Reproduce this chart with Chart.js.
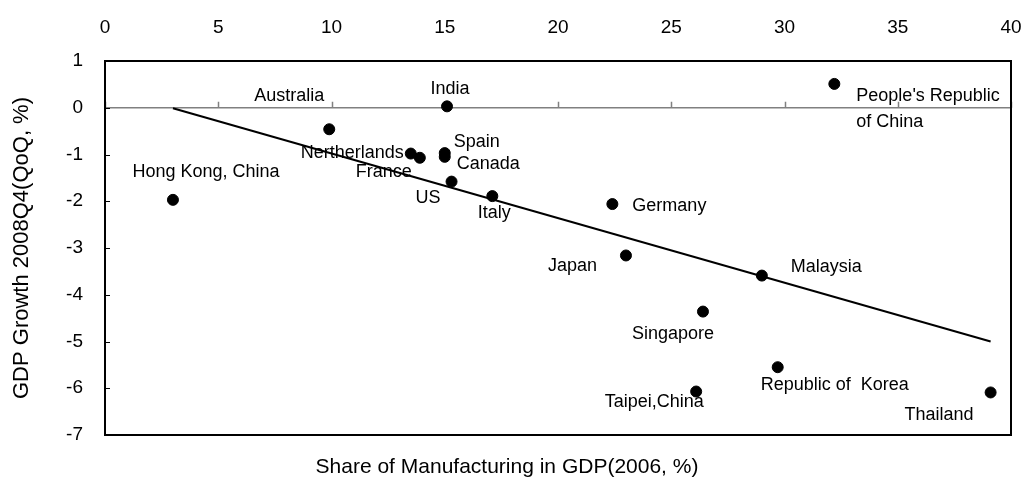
<!DOCTYPE html>
<html>
<head>
<meta charset="utf-8">
<script src="https://cdn.jsdelivr.net/npm/chart.js@4/dist/chart.umd.min.js"></script>
<style>
  body { margin: 0; background: #fff; }
  canvas { display: block; }
</style>
</head>
<body>
<canvas id="gdpChart" width="1025" height="480"></canvas>
<script>
// 資料
const countries = ['Hong Kong, China', 'Australia', 'Nertherlands', 'France', 'Spain', 'Canada', 'India', 'US', 'Italy',
  'Germany', 'Japan', 'Singapore', 'Taipei,China', 'Malaysia', 'Republic of  Korea', 'Thailand', "People's Republic\nof China"];
const manufShare = [3.0, 9.9, 13.5, 13.9, 15.0, 15.0, 15.1, 15.3, 17.1, 22.4, 23.0, 26.4, 26.1, 29.0, 29.7, 39.1, 32.2];
const gdpGrowth = [-1.97, -0.46, -0.98, -1.07, -0.97, -1.05, 0.03, -1.58, -1.89, -2.06, -3.16, -4.36, -6.07, -3.59, -5.55, -6.09, 0.51];
const trendX = [3.0, 39.1];
const trendY = [-0.01, -5.0];
const xTitle = 'Share of Manufacturing in GDP(2006, %)';
const yTitle = 'GDP Growth 2008Q4(QoQ, %)';

// 標籤擺放位置 (相對於點的像素偏移)
const labelPlace = [
  ['center', 33, -28], ['right', -5, -33], ['right', -7, -1], ['right', -8, 14], ['left', 9, -11],
  ['left', 12, 7], ['center', 3, -17], ['right', -11, 16], ['center', 2, 17], ['left', 20, 2],
  ['right', -29, 11], ['center', -30, 22], ['center', -42, 11], ['left', 29, -9], ['left', -17, 18],
  ['right', -17, 23], ['left', 22, 12]
];

const FONT = 'Liberation Sans, Arial, sans-serif';

const frameAndLabels = {
  id: 'frameAndLabels',
  beforeDatasetsDraw(chart) {
    const { ctx, chartArea: a, scales } = chart;
    const y0 = scales.y.getPixelForValue(0);
    ctx.save();
    // 零線 + 刻度
    ctx.strokeStyle = '#808080';
    ctx.lineWidth = 1.5;
    ctx.beginPath();
    ctx.moveTo(a.left, y0);
    ctx.lineTo(a.right, y0);
    scales.x.ticks.forEach(t => {
      const px = Math.round(scales.x.getPixelForValue(t.value)) + 0.5;
      ctx.moveTo(px, y0);
      ctx.lineTo(px, y0 - 6);
    });
    ctx.stroke();
    // y 軸內刻度
    ctx.strokeStyle = '#000';
    ctx.lineWidth = 1;
    ctx.beginPath();
    scales.y.ticks.forEach(t => {
      const py = Math.round(scales.y.getPixelForValue(t.value)) + 0.5;
      ctx.moveTo(a.left, py);
      ctx.lineTo(a.left + 5, py);
    });
    ctx.stroke();
    // 外框
    ctx.lineWidth = 2;
    ctx.strokeRect(a.left, a.top, a.right - a.left, a.bottom - a.top);
    ctx.restore();
  },
  afterDatasetsDraw(chart) {
    const { ctx, scales } = chart;
    ctx.save();
    ctx.fillStyle = '#000';
    ctx.font = '18px ' + FONT;
    ctx.textBaseline = 'middle';
    countries.forEach((name, i) => {
      const [align, dx, dy] = labelPlace[i];
      const px = scales.x.getPixelForValue(manufShare[i]) + dx;
      const py = scales.y.getPixelForValue(gdpGrowth[i]) + dy;
      ctx.textAlign = align;
      name.split('\n').forEach((line, k) => ctx.fillText(line, px, py + k * 26));
    });
    // x 軸標題
    ctx.font = '21px ' + FONT;
    ctx.textAlign = 'center';
    ctx.fillText(xTitle, 507, 467);
    ctx.restore();
  }
};

const ctx = document.getElementById('gdpChart').getContext('2d');
const myChart = new Chart(ctx, {
  type: 'scatter',
  data: {
    datasets: [
      {
        data: manufShare.map((v, i) => ({ x: v, y: gdpGrowth[i] })),
        backgroundColor: '#000', borderColor: '#000', pointRadius: 5.5, pointHoverRadius: 5.5
      },
      {
        data: trendX.map((v, i) => ({ x: v, y: trendY[i] })),
        showLine: true, borderColor: '#000', borderWidth: 2, pointRadius: 0
      }
    ]
  },
  options: {
    responsive: false,
    animation: false,
    layout: { padding: { left: 0, right: 14, top: 0, bottom: 45 } },
    plugins: { legend: { display: false }, tooltip: { enabled: false } },
    scales: {
      x: {
        type: 'linear', position: 'top', min: 0, max: 40,
        ticks: { stepSize: 5, color: '#000', font: { size: 19, family: FONT }, padding: 22, maxRotation: 0 },
        grid: { display: false, drawTicks: false },
        border: { display: false },
        afterFit(s) { s.height = 61; s.paddingLeft = 0; s.paddingRight = 0; }
      },
      y: {
        min: -7, max: 1,
        ticks: { stepSize: 1, color: '#000', font: { size: 19, family: FONT }, padding: 22 },
        grid: { display: false, drawTicks: false },
        border: { display: false },
        title: { display: true, text: yTitle, color: '#000', font: { size: 22, family: FONT }, padding: { top: 9, bottom: 0 } },
        afterFit(s) { s.width = 105; s.paddingTop = 0; s.paddingBottom = 0; }
      }
    }
  },
  plugins: [frameAndLabels]
});
</script>
</body>
</html>
